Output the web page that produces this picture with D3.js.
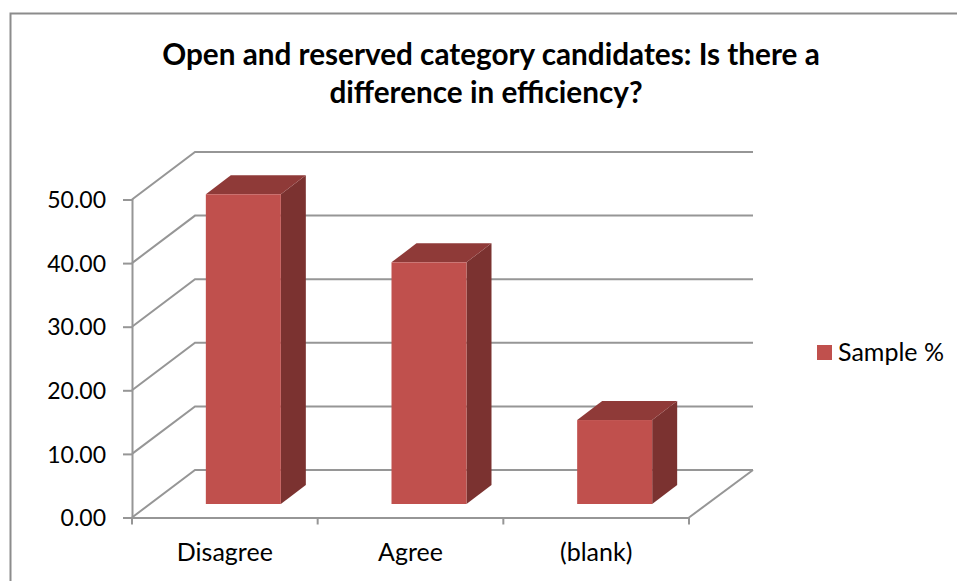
<!DOCTYPE html>
<html><head><meta charset="utf-8">
<script src="https://cdn.jsdelivr.net/npm/d3@7"></script>
<style>
html,body{margin:0;padding:0;background:#fff;overflow:hidden}
text{font-family:Lato,"Open Sans",sans-serif;fill:#000}
</style></head><body><div id="chart"></div>
<script>
const categories = ["Disagree","Agree","(blank)"];
const seriesName = "Sample %";
const sampleValues = [48.7,38.0,13.2];
const yTicks = [0,10,20,30,40,50];
const titleLines = ["Open and reserved category candidates: Is there a","difference in efficiency?"];

const W=957,H=581;
const svg=d3.select("#chart").append("svg").attr("width",W).attr("height",H).style("display","block");
const grey="#969696";
svg.append("path").attr("d",`M10.5,581V13.5H957`).attr("fill","none").attr("stroke","#8c8c8c").attr("stroke-width",2);

const y=d3.scaleLinear().domain([0,50]).range([517.5,199.5]);
const x=d3.scaleBand().domain(categories).range([132,689]).paddingInner(0).paddingOuter(0);
const depth={dx:63,dy:-47.5};
const barOff={dx:18.5,dy:-13.5};
const barD={dx:25,dy:-19};
const barW=75;

// walls and gridlines
const g=svg.append("g").attr("fill","none").attr("stroke",grey).attr("stroke-width",2);
yTicks.forEach(t=>{
  const p=d3.path();
  p.moveTo(x.range()[0],y(t));
  p.lineTo(x.range()[0]+depth.dx,y(t)+depth.dy);
  p.lineTo(x.range()[1]+depth.dx+1,y(t)+depth.dy);
  g.append("path").attr("d",p.toString());
});
{
  const p=d3.path();
  p.moveTo(x.range()[1],y(0));
  p.lineTo(x.range()[1]+depth.dx+1,y(0)+depth.dy);
  g.append("path").attr("d",p.toString());
}

// axes
const yAxis=d3.axisLeft(y).tickValues(yTicks).tickFormat(d3.format(".2f")).tickSize(9).tickPadding(17);
const ya=svg.append("g").attr("transform",`translate(${x.range()[0]},0)`).call(yAxis);
const xAxis=d3.axisBottom(x).tickSize(0).tickPadding(26);
const xa=svg.append("g").attr("transform",`translate(0,${y(0)})`).call(xAxis);
[ya,xa].forEach(a=>{a.selectAll("path.domain").attr("stroke",grey).attr("stroke-width",2);
  a.selectAll("line").attr("stroke",grey).attr("stroke-width",2);
  a.selectAll("text").style("font-family",'Lato,"Open Sans",sans-serif').attr("fill","#000");});
ya.selectAll("text").style("font-size","23px").attr("dy","0.36em");
xa.selectAll("text").style("font-size","25px");
// category boundary ticks
const xEdges=categories.map(c=>x(c)).concat(x.range()[1]);
xa.selectAll("line.edge").data(xEdges).join("line").attr("class","edge")
  .attr("x1",d=>d).attr("x2",d=>d).attr("y1",0).attr("y2",7).attr("stroke",grey).attr("stroke-width",2);

// bars
const bars=svg.append("g").selectAll("g").data(categories.map((c,i)=>({c,v:sampleValues[i]}))).join("g");
const bx=d=>x(d.c)+x.bandwidth()/2-barW/2+barOff.dx;
const by0=y(0)+barOff.dy;
const by=d=>y(d.v)+barOff.dy;
bars.append("path").attr("fill","#7B3230").attr("d",d=>{
  const xr=bx(d)+barW,t=by(d);
  return `M${xr},${t}L${xr+barD.dx},${t+barD.dy}L${xr+barD.dx},${by0+barD.dy}L${xr},${by0}Z`;});
bars.append("path").attr("fill","#8F3A38").attr("d",d=>{
  const xl=bx(d),t=by(d);
  return `M${xl},${t}L${xl+barD.dx},${t+barD.dy}L${xl+barW+barD.dx},${t+barD.dy}L${xl+barW},${t}Z`;});
bars.append("rect").attr("fill","#C0504D").attr("x",bx).attr("y",by).attr("width",barW).attr("height",d=>by0-by(d));

// title
svg.append("g").selectAll("text").data(titleLines).join("text")
  .attr("x",(d,i)=>i?486:491).attr("y",(d,i)=>65+i*38).attr("text-anchor","middle")
  .style("font-size","29.7px").style("font-weight","700").text(d=>d);

// legend
svg.append("rect").attr("x",817).attr("y",345).attr("width",15).attr("height",15).attr("fill","#C0504D");
svg.append("text").attr("x",838).attr("y",361).style("font-size","25px").text(seriesName);
</script></body></html>
